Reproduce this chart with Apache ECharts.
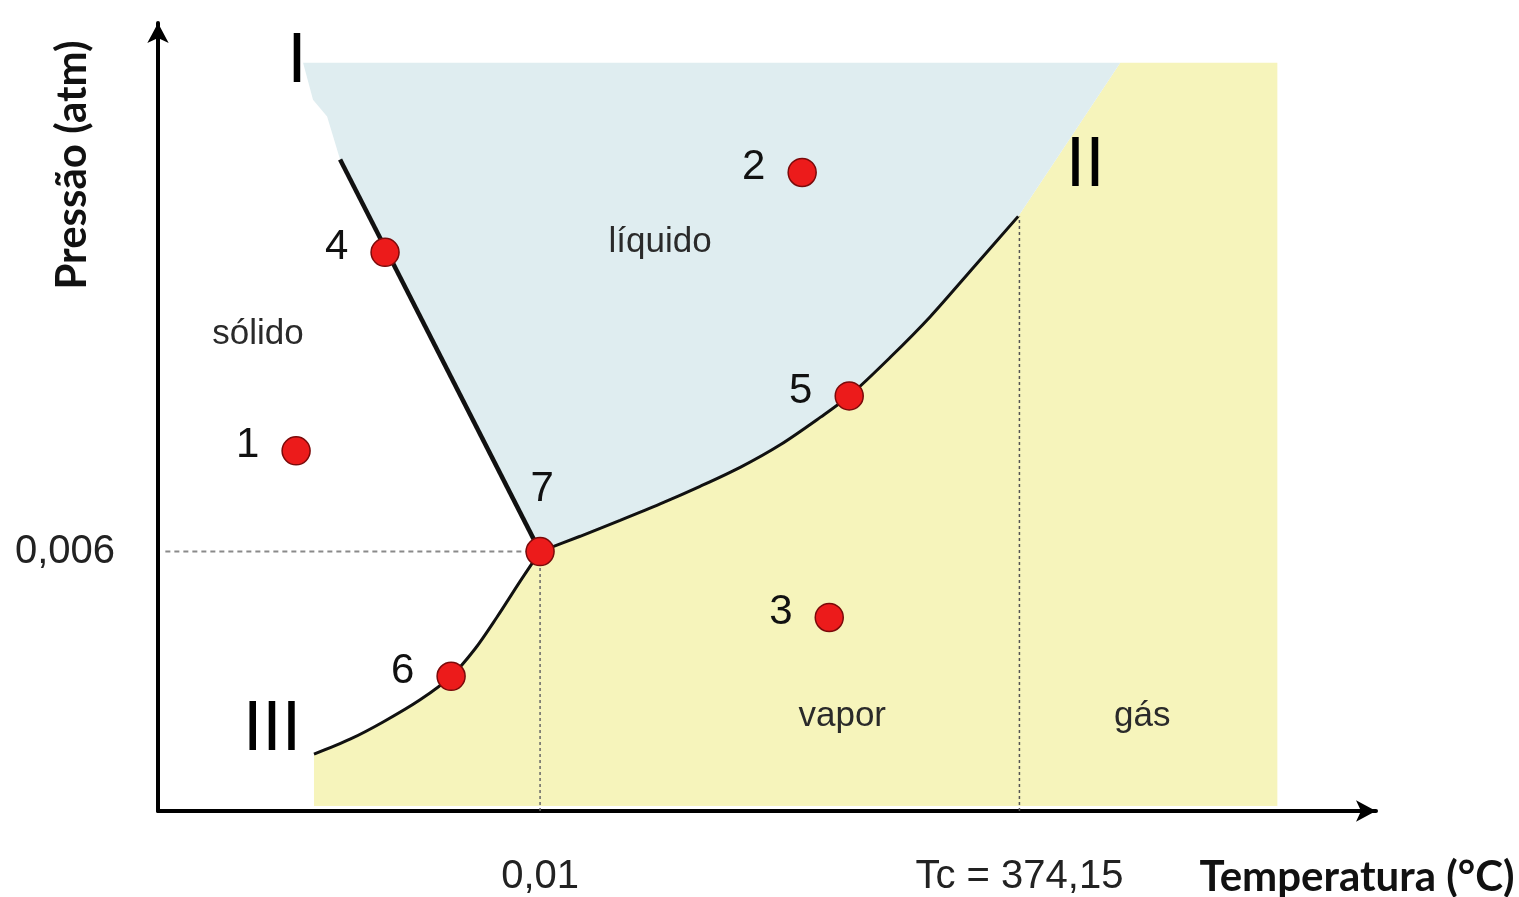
<!DOCTYPE html>
<html>
<head>
<meta charset="utf-8">
<script src="https://cdn.jsdelivr.net/npm/echarts@6/dist/echarts.min.js"></script>
<style>
html,body{margin:0;padding:0;background:#fff;}
#chart{width:1519px;height:897px;}
</style>
</head>
<body>
<div id="chart"></div>
<script>
// ---- data (diagram units: temperature axis 0..~99, pressure axis 0..~99, schematic) ----
const pointNames = ['1', '2', '3', '4', '5', '6', '7'];
const pointT = [11.27, 52.57, 54.78, 18.53, 56.41, 23.92, 31.18];
const pointP = [45.29, 80.30, 24.34, 70.26, 52.20, 16.94, 32.62];

// solid-liquid (fusion) line
const fusionT = [14.86, 31.18];
const fusionP = [81.93, 32.62];

// liquid-vapor curve (triple point -> critical point)
const vaporT = [31.18, 34.45, 37.71, 40.98, 44.24, 47.51, 50.78, 54.04, 56.41, 59.76, 63.02, 66.69, 70.20];
const vaporP = [32.62, 34.55, 36.55, 38.62, 40.83, 43.22, 46.06, 49.50, 52.20, 57.06, 62.17, 68.61, 74.78];

// solid-vapor (sublimation) curve
const sublimT = [12.73, 15.67, 18.37, 21.39, 23.92, 25.88, 27.67, 29.55, 31.18];
const sublimP = [7.15, 9.03, 11.20, 13.99, 16.94, 20.40, 24.40, 28.88, 32.62];

// liquid region upper-left edge (above the fusion line, no drawn line)
const liquidEdgeT = [11.84, 12.65, 13.80, 14.86];
const liquidEdgeP = [94.10, 89.46, 87.33, 81.93];

const regionTopP = 94.10;
const regionBottomP = 0.63;
const liquidTopRightT = 78.53;
const regionRightT = 91.35;

const tripleT = 31.18;
const tripleP = 32.62;
const criticalT = 70.30;
const criticalP = 74.78;

const regionNames = ['sólido', 'líquido', 'vapor', 'gás'];
const regionT = [8.16, 40.98, 55.84, 80.33];
const regionP = [59.97, 71.52, 11.92, 11.92];

const romanNames = ['I', 'II', 'III'];
const romanT = [11.35, 75.67, 9.31];
const romanP = [94.10, 81.05, 10.16];

const xTickValues = [31.18, 70.30];
const xTickLabels = ['0,01', 'Tc = 374,15'];
const yTickValues = [32.62];
const yTickLabels = ['0,006'];

const xTitle = 'Temperatura (°C)';
const yTitle = 'Pressão (atm)';

// ---- helpers ----
const zip = (a, b) => a.map((v, i) => [v, b[i]]);
const FONT = '"Liberation Sans", Arial, Helvetica, sans-serif';
const TITLE_FONT = 'bold 42px Lato, "Open Sans", sans-serif';

function liquidPolygon() {
  const pts = zip(liquidEdgeT, liquidEdgeP);
  pts.push([tripleT, tripleP]);
  zip(vaporT, vaporP).slice(1).forEach(p => pts.push(p));
  pts.push([liquidTopRightT, regionTopP]);
  return pts;
}
function vaporPolygon() {
  const pts = [[sublimT[0], regionBottomP]];
  zip(sublimT, sublimP).forEach(p => pts.push(p));
  zip(vaporT, vaporP).slice(1).forEach(p => pts.push(p));
  pts.push([liquidTopRightT, regionTopP]);
  pts.push([regionRightT, regionTopP]);
  pts.push([regionRightT, regionBottomP]);
  return pts;
}
function polygonSeries(getPts, fill) {
  return {
    type: 'custom', silent: true, z: 1, clip: false,
    data: [[0, 0]],
    renderItem: (params, api) => ({
      type: 'polygon',
      shape: { points: getPts().map(p => api.coord(p)) },
      style: { fill: fill }
    })
  };
}
function textSeries(names, ts, ps, font, color) {
  return {
    type: 'custom', silent: true, z: 10, clip: false,
    data: names.map((n, i) => [ts[i], ps[i], i]),
    renderItem: (params, api) => {
      const c = api.coord([api.value(0), api.value(1)]);
      return {
        type: 'text', x: c[0], y: c[1],
        style: { text: names[api.value(2)], font: font, fill: color, align: 'center', verticalAlign: 'middle' }
      };
    }
  };
}
function tickFormatter(values, labels) {
  return v => {
    const i = values.findIndex(t => Math.abs(t - v) < 1e-6);
    return i >= 0 ? labels[i] : '';
  };
}

const chart = echarts.init(document.getElementById('chart'), null, { renderer: 'canvas' });

const option = {
  animation: false,
  backgroundColor: '#ffffff',
  textStyle: { fontFamily: FONT },
  grid: { left: 158, top: 23, width: 1218, height: 790 },
  xAxis: {
    type: 'value', min: 0, max: 99.4,
    axisLine: { show: true, symbol: ['none', 'arrow'], symbolSize: [16, 20], lineStyle: { color: '#000', width: 4 } },
    axisTick: { show: false },
    splitLine: { show: false },
    axisLabel: {
      customValues: xTickValues,
      formatter: tickFormatter(xTickValues, xTickLabels),
      margin: 46, fontSize: 40, color: '#222', fontFamily: FONT
    }
  },
  yAxis: {
    type: 'value', min: 0, max: 99.1,
    axisLine: { show: true, symbol: ['none', 'arrow'], symbolSize: [16, 20], lineStyle: { color: '#000', width: 4 } },
    axisTick: { show: false },
    splitLine: { show: false },
    axisLabel: {
      customValues: yTickValues,
      formatter: tickFormatter(yTickValues, yTickLabels),
      margin: 43, fontSize: 40, color: '#222', fontFamily: FONT
    }
  },
  graphic: [
    {
      type: 'text', x: 72, y: 165, rotation: Math.PI / 2,
      style: { text: yTitle, font: TITLE_FONT, fill: '#111', align: 'center', verticalAlign: 'middle' }
    },
    {
      type: 'text', x: 1357, y: 877,
      style: { text: xTitle, font: TITLE_FONT, fill: '#111', align: 'center', verticalAlign: 'middle' }
    }
  ],
  series: [
    polygonSeries(vaporPolygon, '#f6f4bb'),
    polygonSeries(liquidPolygon, '#dfedf0'),
    {
      type: 'line', z: 3, silent: true, showSymbol: false, symbol: 'none',
      data: [[0.6, tripleP], [tripleT, tripleP]],
      lineStyle: { color: '#8a8a8a', width: 2, type: [5, 4] }
    },
    {
      type: 'line', z: 3, silent: true, showSymbol: false, symbol: 'none',
      data: [[tripleT, 0], [tripleT, tripleP]],
      lineStyle: { color: '#666', width: 1.5, type: [3, 3] }
    },
    {
      type: 'line', z: 3, silent: true, showSymbol: false, symbol: 'none',
      data: [[criticalT, 0], [criticalT, criticalP]],
      lineStyle: { color: '#555', width: 1.5, type: [3, 3] }
    },
    {
      type: 'line', z: 4, silent: true, showSymbol: false, symbol: 'none',
      data: zip(fusionT, fusionP),
      lineStyle: { color: '#111', width: 4.5 }
    },
    {
      type: 'line', z: 4, silent: true, showSymbol: false, symbol: 'none', smooth: 0.3,
      data: zip(vaporT, vaporP),
      lineStyle: { color: '#111', width: 3 }
    },
    {
      type: 'line', z: 4, silent: true, showSymbol: false, symbol: 'none', smooth: 0.3,
      data: zip(sublimT, sublimP),
      lineStyle: { color: '#111', width: 3 }
    },
    {
      type: 'scatter', z: 6, silent: true,
      symbol: 'circle', symbolSize: 28,
      itemStyle: { color: '#ec1b1b', borderColor: '#7a0a0a', borderWidth: 1.5, opacity: 1 },
      label: {
        show: true, position: 'left', distance: 22, offset: [0, -5],
        formatter: p => p.name, fontSize: 42, color: '#111', fontFamily: FONT
      },
      data: pointNames.map((n, i) => {
        const d = { name: n, value: [pointT[i], pointP[i]] };
        if (n === '7') d.label = { position: 'top', distance: 26, offset: [2, 0] };
        return d;
      })
    },
    textSeries(regionNames, regionT, regionP, '35px ' + FONT, '#2a2a2a'),
    textSeries(romanNames, romanT, romanP, '70px ' + FONT, '#000')
  ]
};

chart.setOption(option);
</script>
</body>
</html>
